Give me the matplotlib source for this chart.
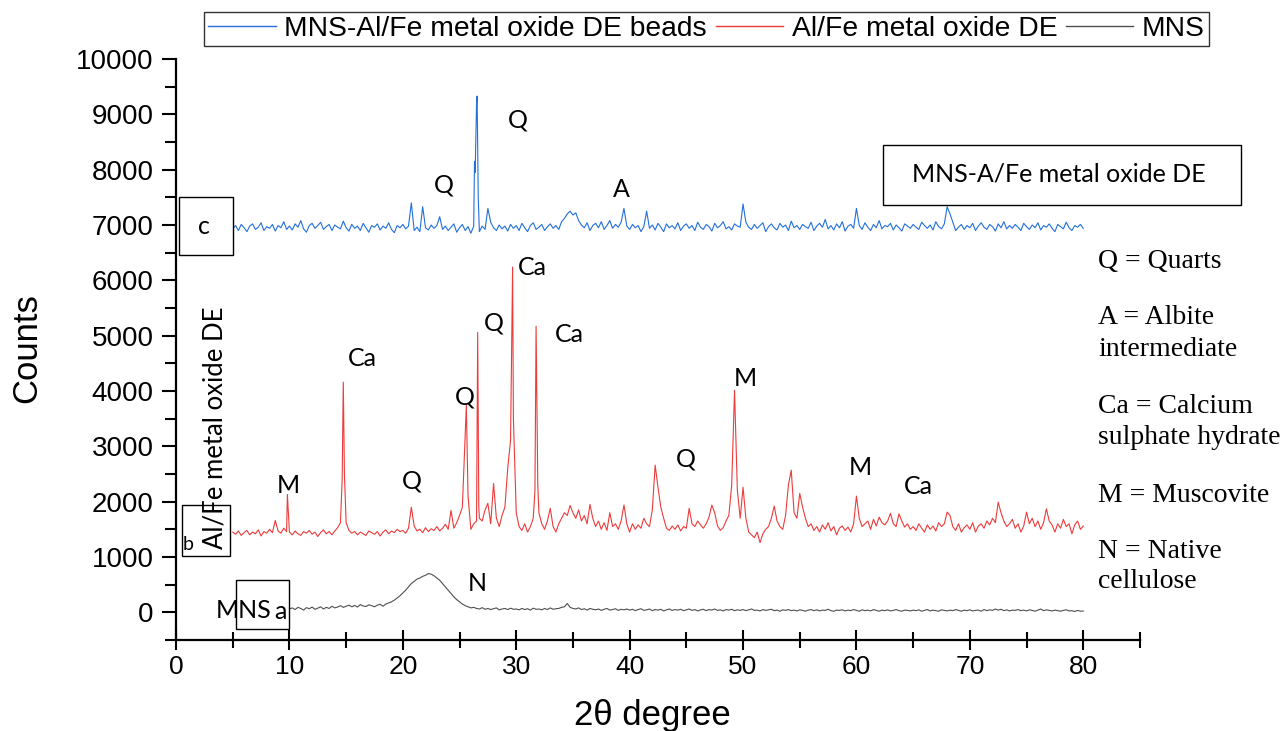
import numpy as np
import matplotlib
matplotlib.use("Agg")
import matplotlib.pyplot as plt
from matplotlib.patches import Rectangle
from matplotlib.ticker import MultipleLocator

plt.rcParams['font.family'] = ['Liberation Sans', 'DejaVu Sans']

# ---------------- diffractogram data (2theta grid step 0.25 deg) ----------------
beads_start = 5.0
beads_counts = [
    6930, 6990, 6900, 7010, 6950, 6880, 6980, 7020, 6920, 6960, 7040, 6900, 6970, 6940, 7010, 6890, 6990, 6950, 7060, 6920,
    6980, 6910, 7020, 6960, 7080, 6930, 6870, 6990, 7030, 6940, 6990, 7050, 6920, 6970, 7010, 6900, 7000, 6960, 6930, 7070,
    6950, 6890, 7010, 6940, 6980, 6900, 7030, 6950, 6870, 6990, 6960, 7020, 6910, 6980, 6940, 7040, 6920, 6860, 6990, 6950,
    7010, 6930, 6980, 7400, 6900, 6960, 6880, 7330, 6950, 6910, 7000, 6940, 6990, 7150, 6920, 6980, 6900, 6960, 7020, 6870,
    6950, 7010, 6900, 6970, 6850, 6980, 9200, 6880, 6980, 6920, 7300, 7050, 6950, 6900, 7000, 6930, 6980, 6890, 7010, 6940,
    6990, 6900, 7030, 6950, 6880, 6990, 7040, 6920, 6960, 7010, 6900, 6970, 7020, 6940, 6990, 6920, 7060, 7120, 7200, 7250,
    7180, 7220, 7080, 7000, 6950, 7040, 6900, 6990, 7030, 6950, 7060, 6920, 6990, 7080, 6940, 7010, 6960, 7050, 7300, 6980,
    6920, 7010, 6950, 6990, 6880, 6970, 7250, 6940, 7000, 6910, 7030, 6960, 6880, 7020, 6950, 6990, 6930, 7040, 6900, 6980,
    7020, 6940, 6990, 6900, 7050, 6960, 6920, 7010, 6970, 6890, 7030, 6950, 6990, 7060, 6930, 6970, 6910, 7020, 6980, 6960,
    7380, 7050, 6960, 6920, 7010, 6940, 6990, 7040, 6880, 6970, 7020, 6950, 6910, 7030, 6960, 7000, 6900, 7070, 6950, 6990,
    6920, 7010, 6970, 6940, 7050, 6900, 6980, 7030, 6960, 7100, 6930, 6990, 6910, 7020, 6950, 7060, 6890, 6980, 7010, 6940,
    7300, 6990, 6920, 7040, 6960, 6900, 7010, 6950, 7080, 6930, 6990, 6970, 7030, 6910, 7000, 6950, 6890, 7020, 6980, 6940,
    7010, 6960, 6920, 7050, 6990, 6940, 7000, 6910, 7060, 6970, 6930, 7020, 7330, 7200, 7050, 6900, 6960, 7010, 6920, 6990,
    6950, 7030, 6900, 6980, 7040, 6960, 6920, 7010, 6970, 6890, 7020, 6950, 7060, 6930, 6990, 6940, 7010, 6960, 6900, 7030,
    6970, 6920, 7000, 6950, 7040, 6910, 6990, 6960, 7020, 6940, 6880, 7010, 6970, 6930, 7050, 6950, 6900, 6990, 6960, 7010,
    6940,
]
beads_peak_pos = [26.32, 26.38, 26.55, 26.65]
beads_peak_counts = [8150, 7950, 9330, 7500]

oxide_start = 5.0
oxide_counts = [
    1450, 1410, 1470, 1390, 1440, 1480, 1400, 1450, 1420, 1490, 1380, 1460, 1430, 1500, 1440, 1660, 1470, 1430, 1520, 1460,
    1450, 1400, 1470, 1420, 1390, 1460, 1430, 1480, 1410, 1450, 1370, 1440, 1490, 1420, 1460, 1400, 1470, 1530, 1620, 4160,
    1620, 1480, 1430, 1460, 1400, 1450, 1420, 1390, 1470, 1440, 1410, 1460, 1380, 1450, 1490, 1420, 1470, 1440, 1500, 1460,
    1480, 1430, 1520, 1900, 1560, 1470, 1500, 1440, 1530, 1460, 1510, 1480, 1550, 1470, 1520, 1590, 1500, 1840, 1520, 1620,
    1750, 1900, 3200, 2100, 1500, 1600, 1650, 1700, 1650, 1850, 1970, 1600, 2330, 1700, 1550, 1750, 1900, 2600, 3110, 3500,
    1800, 1550, 1480, 1600, 1450, 1550, 1700, 5170, 1800, 1600, 1500, 1650, 1880, 1550, 1450, 1600, 1700, 1800, 1750, 1930,
    1800, 1700, 1850, 1650, 1750, 1600, 1950, 1700, 1550, 1650, 1500, 1620, 1480, 1800, 1550, 1600, 1500, 1650, 1940, 1600,
    1450, 1600, 1500, 1580, 1520, 1700, 1600, 1550, 1850, 2660, 2260, 1900, 1700, 1520, 1480, 1560, 1500, 1580, 1470, 1550,
    1520, 1880, 1600, 1550, 1650, 1580, 1520, 1600, 1720, 1940, 1800, 1560, 1480, 1530, 1650, 1750, 2300, 4010, 2200, 1700,
    2260, 1700, 1450, 1400, 1350, 1450, 1260, 1420, 1500, 1550, 1700, 1920, 1650, 1550, 1500, 1750, 2300, 2570, 1800, 1700,
    2150, 1900, 1700, 1550, 1600, 1480, 1550, 1450, 1580, 1500, 1620, 1470, 1550, 1400, 1520, 1560, 1480, 1540, 1450, 1600,
    2100, 1700, 1550, 1600, 1650, 1500, 1680, 1560, 1720, 1620, 1580, 1650, 1790, 1600, 1550, 1780, 1650, 1540, 1600, 1500,
    1550, 1480, 1600, 1520, 1450, 1580, 1500, 1560, 1470, 1620, 1550, 1600, 1810, 1750, 1550, 1480, 1600, 1450, 1530, 1580,
    1500, 1620, 1450, 1560, 1600, 1520, 1650, 1580, 1700, 1620, 1990, 1800, 1650, 1550, 1600, 1680, 1520, 1600, 1450, 1560,
    1810, 1600, 1700, 1550, 1650, 1500, 1620, 1870, 1650, 1580, 1450, 1600, 1520, 1680, 1550, 1600, 1420, 1580, 1650, 1500,
    1560,
]
oxide_peak_pos = [9.82, 14.65, 14.85, 25.6, 26.6, 26.7, 29.68, 31.65, 31.9]
oxide_peak_counts = [2130, 2400, 2500, 3740, 5060, 1900, 6240, 2200, 2300]

mns_start = 10.0
mns_counts = [
    60, 80, 50, 90, 70, 40, 85, 65, 95, 55, 75, 100, 60, 90, 70, 110, 80, 95, 120, 90,
    110, 130, 100, 125, 95, 140, 115, 105, 135, 120, 100, 130, 145, 110, 150, 170, 190, 220, 260, 300,
    350, 400, 460, 520, 560, 600, 620, 650, 670, 700, 690, 660, 620, 580, 520, 460, 400, 340, 280, 230,
    190, 150, 120, 100, 80, 90, 70, 60, 85, 55, 70, 50, 65, 80, 45, 60, 70, 50, 75, 55,
    60, 45, 70, 50, 65, 40, 75, 55, 60, 45, 70, 50, 80, 55, 65, 70, 90, 100, 160, 90,
    70, 60, 80, 50, 65, 40, 70, 55, 45, 60, 35, 55, 70, 40, 50, 65, 35, 55, 45, 60,
    40, 55, 30, 50, 65, 35, 45, 60, 30, 50, 40, 55, 25, 45, 60, 35, 50, 40, 55, 30,
    45, 60, 35, 50, 25, 45, 55, 30, 50, 40, 60, 35, 45, 25, 50, 40, 55, 30, 45, 35,
    50, 30, 45, 60, 35, 40, 25, 50, 35, 45, 55, 30, 40, 20, 45, 35, 50, 30, 40, 25,
    45, 35, 20, 40, 50, 30, 45, 25, 40, 35, 55, 30, 20, 40, 35, 45, 25, 40, 30, 50,
    35, 20, 45, 30, 40, 25, 50, 35, 20, 40, 30, 45, 25, 35, 50, 30, 20, 40, 35, 25,
    40, 30, 45, 20, 35, 50, 25, 40, 30, 20, 45, 35, 25, 40, 30, 50, 35, 20, 40, 30,
    45, 25, 35, 40, 20, 50, 30, 45, 35, 60, 40, 55, 30, 45, 25, 40, 35, 50, 30, 40,
    25, 45, 35, 20, 40, 60, 30, 45, 35, 25, 40, 30, 20, 35, 45, 25, 30, 15, 35, 20,
    25,
]

series_labels = ["MNS-Al/Fe metal oxide DE beads", "Al/Fe metal oxide DE", "MNS"]
series_colors = ["#2370DC", "#EE3B3B", "#4F4F4F"]


def build_pattern(start, counts, extra_pos=(), extra_counts=()):
    """Combine the regular scan grid with the extra points recorded on sharp reflections."""
    grid = start + 0.25 * np.arange(len(counts))
    x = np.concatenate([grid, np.asarray(extra_pos, float)])
    y = np.concatenate([np.asarray(counts, float), np.asarray(extra_counts, float)])
    order = np.argsort(x, kind="stable")
    return x[order], y[order]


fig = plt.figure(figsize=(12.83, 7.31), dpi=100)
ax = fig.add_axes([0.1372, 0.1245, 0.7513, 0.7948])

patterns = [
    build_pattern(beads_start, beads_counts, beads_peak_pos, beads_peak_counts),
    build_pattern(oxide_start, oxide_counts, oxide_peak_pos, oxide_peak_counts),
    build_pattern(mns_start, mns_counts),
]
handles = []
for (x, y), lab, col in zip(patterns, series_labels, series_colors):
    h, = ax.plot(x, y, color=col, lw=0.8, label=lab, zorder=2)
    handles.append(h)

ax.set_xlim(0, 85)
ax.set_ylim(-500, 10000)
ax.xaxis.set_major_locator(MultipleLocator(10))
ax.xaxis.set_minor_locator(MultipleLocator(5))
ax.yaxis.set_major_locator(MultipleLocator(1000))
ax.yaxis.set_minor_locator(MultipleLocator(500))
ax.set_xticks(np.arange(0, 81, 10))

for s in ("top", "right"):
    ax.spines[s].set_visible(False)
for s in ("left", "bottom"):
    ax.spines[s].set_linewidth(1.6)

ax.tick_params(axis="y", which="major", direction="out", length=10, width=1.5, labelsize=20, pad=6)
ax.tick_params(axis="y", which="minor", direction="out", length=8, width=1.5)
ax.tick_params(axis="x", which="major", direction="inout", length=14, width=1.5, labelsize=19, pad=4)
ax.tick_params(axis="x", which="minor", direction="inout", length=12, width=1.5)

ax.set_xlabel("2θ degree", fontsize=25, va="center", ha="center")
ax.xaxis.set_label_coords(0.4938, -0.1308)
ax.set_ylabel("Counts", fontsize=25, va="center", ha="center",
              family=["Liberation Sans Narrow", "Liberation Sans"])
ax.yaxis.set_label_coords(-0.1546, 0.5026)

# phase labels above the reflections
phase_font = dict(family=["Lato", "DejaVu Sans"], fontsize=18, ha="center", va="center", zorder=5)
phase_labels = [
    ("Q", 30.16, 8895), ("Q", 23.63, 7720), ("A", 39.24, 7648),
    ("Ca", 31.39, 6238), ("Q", 28.04, 5225), ("Ca", 34.66, 5026),
    ("Ca", 16.40, 4592), ("M", 50.18, 4231), ("Q", 25.49, 3887),
    ("Q", 44.97, 2766), ("M", 60.32, 2622), ("Q", 20.81, 2368),
    ("M", 9.88, 2296), ("Ca", 65.43, 2278), ("N", 26.54, 524),
]
for s, x, y in phase_labels:
    ax.text(x, y, s, **phase_font)

# boxed curve tags
box_kw = dict(facecolor="white", edgecolor="black", lw=1.0, zorder=3, clip_on=False)
ax.add_patch(Rectangle((0.26, 6455), 4.77, 1048, **box_kw))
ax.text(2.47, 6979, "c", **phase_font)
ax.add_patch(Rectangle((0.53, 1012), 4.23, 923, **box_kw))
ax.text(1.05, 1230, "b", **{**phase_font, "fontsize": 14})
ax.add_patch(Rectangle((5.29, -307), 4.67, 885, **box_kw))
ax.text(9.2, 20, "a", **phase_font)
ax.text(6.0, 36, "MNS", **phase_font)
ax.add_patch(Rectangle((62.35, 7359), 31.55, 1084, **box_kw))
ax.text(77.87, 7919, "MNS-A/Fe metal oxide DE", **phase_font)
ax.text(3.45, 3327, "Al/Fe metal oxide DE", rotation=90,
        **{**phase_font, "fontsize": 18.5})

# phase key on the right
key_font = dict(family=["Liberation Serif", "DejaVu Serif"], fontsize=20, ha="left", va="center")
key_lines = [
    ("Q = Quarts", 262), ("A = Albite", 317), ("intermediate", 350),
    ("Ca = Calcium", 407), ("sulphate hydrate", 438), ("M = Muscovite", 495),
    ("N = Native", 552), ("cellulose", 582),
]
for s, py in key_lines:
    fig.text(1098 / 1283, 1 - py / 731, s, **key_font)

leg = fig.legend(handles=handles, labels=series_labels, loc="center",
                 bbox_to_anchor=(0.5507, 0.9603), ncol=3, fontsize=20.3,
                 frameon=True, fancybox=False, edgecolor="black",
                 handlelength=2.4, handletextpad=0.3, columnspacing=0.3,
                 borderpad=0.15, borderaxespad=0.0)
leg.get_frame().set_linewidth(1.0)
for line in leg.get_lines():
    line.set_linewidth(1.0)

fig.savefig("out.png", dpi=100)
